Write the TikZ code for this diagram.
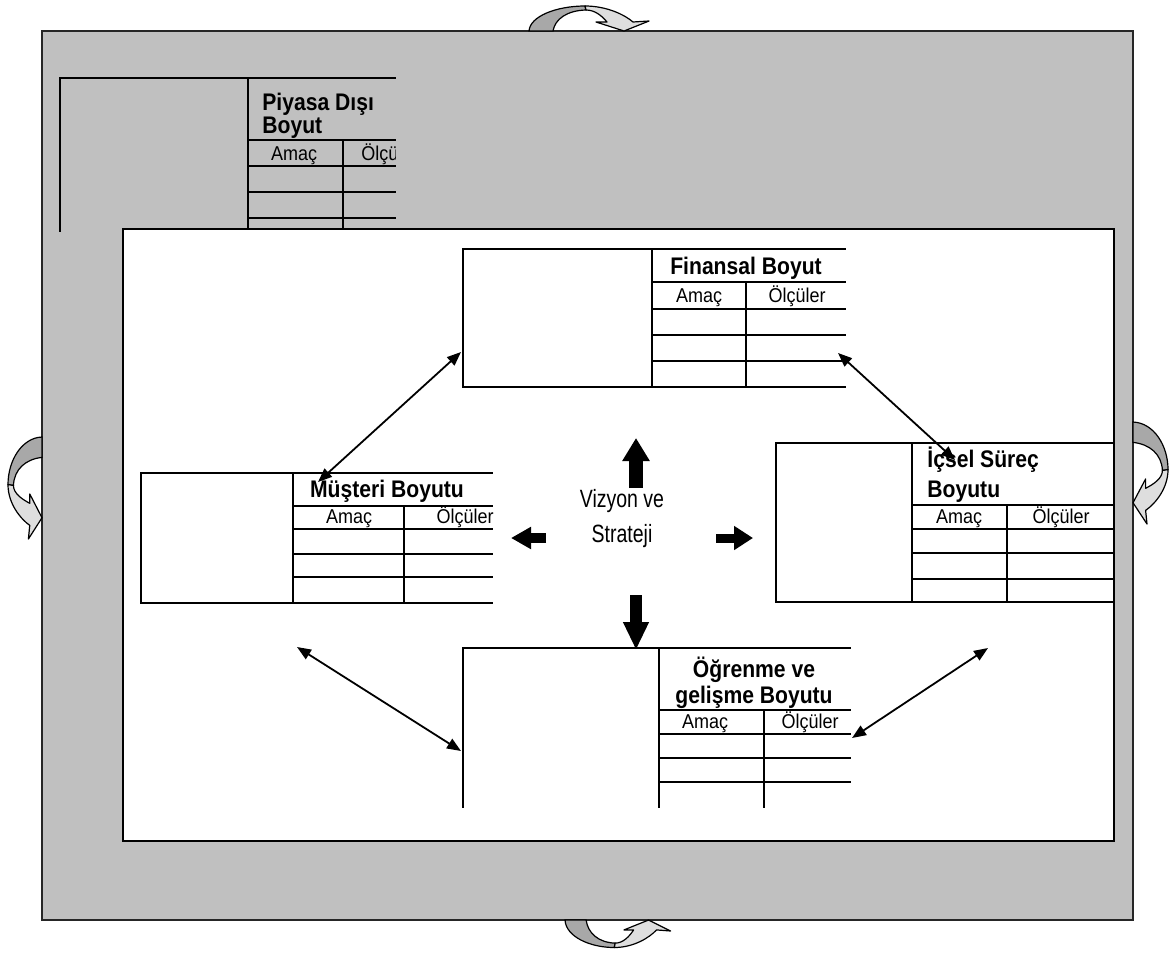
\documentclass[tikz,border=0pt]{standalone}
\usepackage{fontspec}
\setmainfont{Liberation Sans}
\newfontfamily\colfont[FakeStretch=0.9]{Liberation Sans}
\newfontfamily\hdrfont[FakeStretch=0.88]{Liberation Sans}
\newfontfamily\visfont[FakeStretch=0.78]{Liberation Sans}
\usetikzlibrary{arrows.meta}
\definecolor{framegray}{HTML}{C0C0C0}
\definecolor{rotdark}{HTML}{A8A8A8}
\definecolor{rotlight}{HTML}{DEDEDE}
\newcommand\rotarrowshape{%
  \filldraw[fill=rotdark, draw=black, line width=0.6pt]
    (0,0) .. controls (1,15) and (28,25) .. (56,25) -- (57,21)
    .. controls (38,20.5) and (26,12) .. (24,0) -- cycle;
  \filldraw[fill=rotlight, draw=black, line width=0.6pt, line join=round]
    (56,25) .. controls (78,25) and (96,16) .. (104,9) -- (120,10) -- (95,0)
    -- (67,9) -- (78,9) .. controls (73,15) and (66,21) .. (57,21) -- cycle;
}
\begin{document}
\begin{tikzpicture}[x=0.5pt,y=-0.5pt,
  tline/.style={line width=1pt, line cap=rect},
  hdr/.style={font=\hdrfont\fontsize{12}{13}\selectfont\bfseries, inner sep=0pt, anchor=base},
  hdrw/.style={hdr, anchor=base west},
  colt/.style={font=\colfont\fontsize{10}{11}\selectfont, inner sep=0pt, anchor=base},
  vist/.style={font=\visfont\fontsize{12.5}{13}\selectfont, inner sep=0pt, anchor=base},
  dblarrow/.style={line width=0.9pt, {Triangle[length=7pt,width=5.5pt]}-{Triangle[length=7pt,width=5.5pt]}},
  ]
\useasboundingbox (0,0) rectangle (1170,953);

% outer gray frame
\filldraw[fill=framegray, draw=black!85, line width=1pt] (42,31) rectangle (1133,920);

% Piyasa Disi table (partly hidden)
\draw[tline] (60,78) -- (395,78) (60,78) -- (60,231)
  (248,78) -- (248,235) (248,140) -- (395,140)
  (248,166) -- (395,166) (248,192) -- (395,192) (248,218) -- (395,218)
  (343,140) -- (343,235);
\node[hdrw] (piyh1) at (262,110) {Piyasa Dışı};
\node[hdrw] (piyh2) at (262,133) {Boyut};
\node[colt] (piya) at (294,160) {Amaç};
\begin{scope}
  \clip (343,140) rectangle (395,166);
  \node[colt, anchor=base west] (piyo) at (361,160) {Ölçüler};
\end{scope}

% inner white area
\filldraw[fill=white, draw=black, line width=1pt] (123,229) rectangle (1114,841);

% Finansal Boyut
\draw[tline] (463,249) -- (845,249) (463,387) -- (845,387) (463,249) -- (463,387)
  (652,249) -- (652,387) (652,282) -- (845,282) (652,309) -- (845,309)
  (652,335) -- (845,335) (652,361) -- (845,361) (746,282) -- (746,387);
\node[hdr] (finh) at (746,274) {Finansal Boyut};
\node[colt] (fina) at (699,302) {Amaç};
\node[colt] (fino) at (797,302) {Ölçüler};

% Musteri Boyutu
\draw[tline] (141,473) -- (492,473) (141,603) -- (492,603) (141,473) -- (141,603)
  (293,473) -- (293,603) (293,506) -- (492,506) (293,529) -- (492,529)
  (293,554) -- (492,554) (293,577) -- (492,577) (404,506) -- (404,603);
\node[hdr] (mush) at (387,497) {Müşteri Boyutu};
\node[colt] (musa) at (349,523) {Amaç};
\node[colt] (muso) at (465,523) {Ölçüler};

% Icsel Surec Boyutu
\draw[tline] (776,443) -- (1114,443) (776,602) -- (1114,602) (776,443) -- (776,602)
  (912,443) -- (912,602) (912,505) -- (1114,505) (912,529) -- (1114,529)
  (912,553) -- (1114,553) (912,579) -- (1114,579) (1007,505) -- (1007,602);
\node[hdrw] (ich1) at (927,467) {İçsel Süreç};
\node[hdrw] (ich2) at (927,497) {Boyutu};
\node[colt] (ica) at (959,523) {Amaç};
\node[colt] (ico) at (1061,523) {Ölçüler};

% Ogrenme ve gelisme Boyutu
\draw[tline] (463,648) -- (850,648) (463,648) -- (463,807)
  (659,648) -- (659,807) (659,710) -- (850,710) (659,734) -- (850,734)
  (659,758) -- (850,758) (659,782) -- (850,782) (764,710) -- (764,807);
\node[hdr] (ogh1) at (754,677) {Öğrenme ve};
\node[hdr] (ogh2) at (754,703) {gelişme Boyutu};
\node[colt] (oga) at (705,728) {Amaç};
\node[colt] (ogo) at (810,728) {Ölçüler};

% center text
\node[vist] (vis1) at (622,507) {Vizyon ve};
\node[vist] (vis2) at (622,542) {Strateji};

% block arrows from the center
\coordinate (upS) at (636,488);  \coordinate (upE) at (636,438);
\coordinate (dnS) at (636,595);  \coordinate (dnE) at (636,650);
\coordinate (ltS) at (546,538);  \coordinate (ltE) at (511,538);
\coordinate (rtS) at (716,538);  \coordinate (rtE) at (753,538);
\draw[line width=7pt, -{Triangle[length=11.5pt,width=13pt]}] (upS) -- (upE);
\draw[line width=6pt, -{Triangle[length=14pt,width=12pt]}] (dnS) -- (dnE);
\draw[line width=5pt, -{Triangle[length=10pt,width=10.5pt]}] (ltS) -- (ltE);
\draw[line width=4.5pt, -{Triangle[length=9.5pt,width=11.5pt]}] (rtS) -- (rtE);

% double-headed connectors
\coordinate (musT) at (318,482);  \coordinate (finL) at (461,352);
\coordinate (finR) at (838,353);  \coordinate (icT) at (955,460);
\coordinate (musB) at (297,647);  \coordinate (ogL) at (461,751);
\coordinate (ogR) at (852,738);   \coordinate (icB) at (988,648);
\draw[dblarrow] (musT) -- (finL);
\draw[dblarrow] (finR) -- (icT);
\draw[dblarrow] (musB) -- (ogL);
\draw[dblarrow] (ogR) -- (icB);

% curved rotation arrows on the frame
\begin{scope}[cm={1,0,0,-1,(529,31)}] \rotarrowshape \end{scope}
\begin{scope}[cm={0.88,0,0,1.1,(565,920)}] \rotarrowshape \end{scope}
\begin{scope}[cm={0,-0.85,-1.4,0,(1133,422)}] \rotarrowshape \end{scope}
\begin{scope}[cm={0,-0.85,1.36,0,(42,437)}] \rotarrowshape \end{scope}
\end{tikzpicture}
\end{document}
